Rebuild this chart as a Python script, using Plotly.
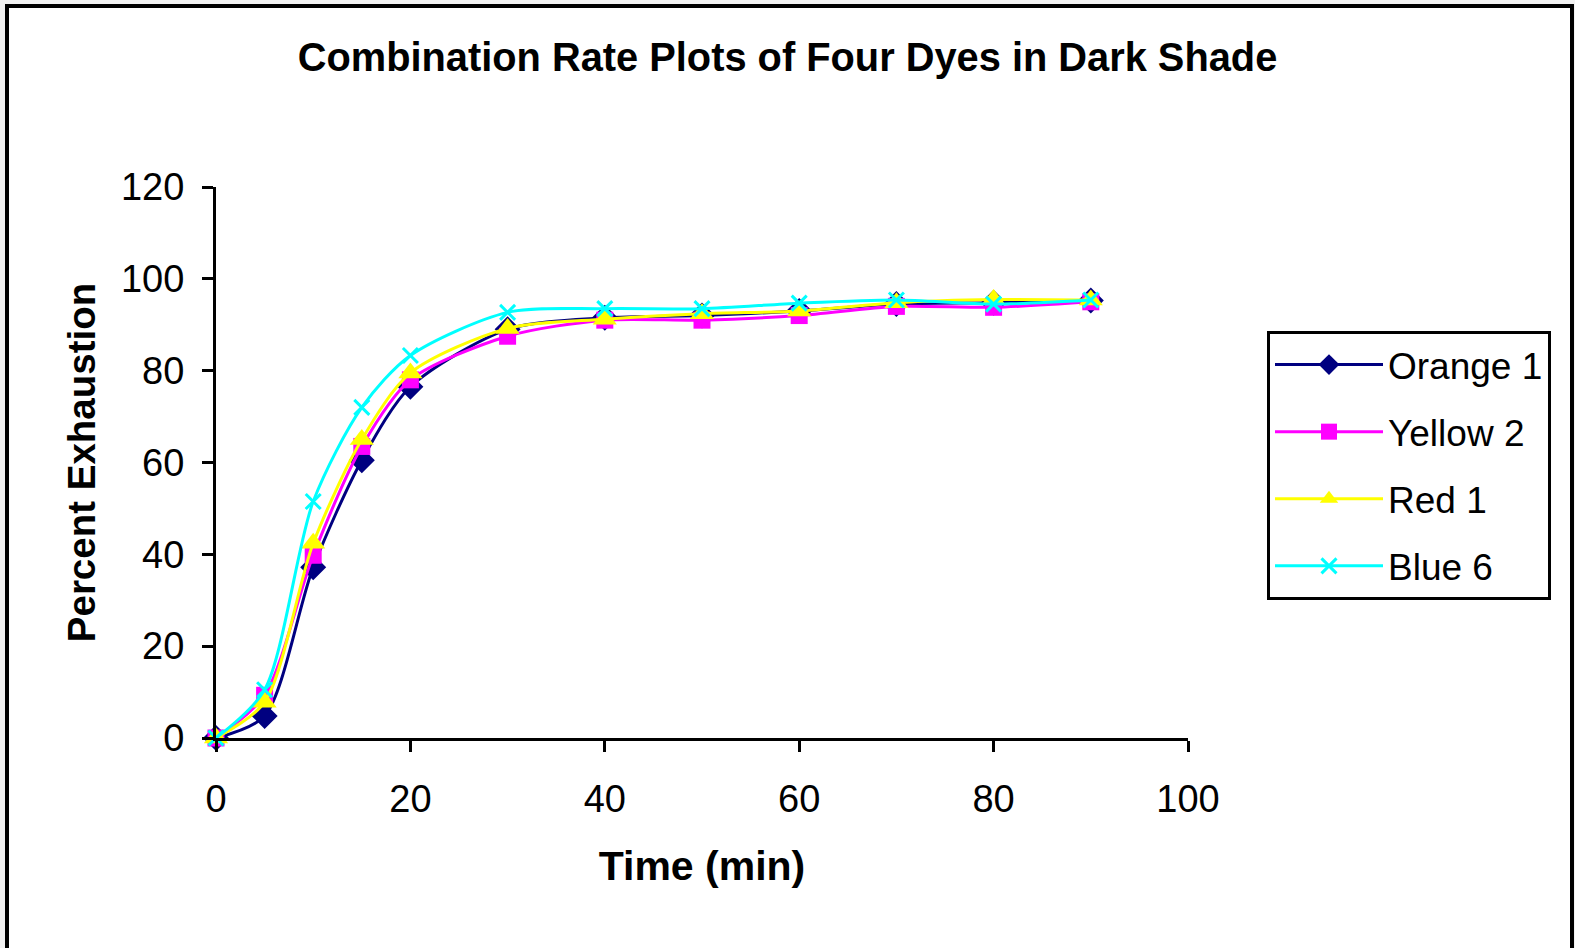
import plotly.graph_objects as go

# ── data ──────────────────────────────────────────────────────────────────────
time_min = [0, 5, 10, 15, 20, 30, 40, 50, 60, 70, 80, 90]

orange_1 = [0, 4.8, 37.2, 60.5, 76.5, 89.0, 91.5, 92.0, 93.0, 94.5, 94.8, 95.3]
yellow_2 = [0, 9.3, 39.8, 63.5, 78.0, 87.5, 91.0, 91.0, 92.0, 94.0, 93.8, 95.0]
red_1    = [0, 7.8, 42.4, 65.0, 79.5, 89.2, 91.2, 92.4, 93.0, 94.8, 95.5, 95.4]
blue_6   = [0, 10.5, 51.5, 72.0, 83.3, 92.7, 93.5, 93.5, 94.7, 95.4, 94.5, 95.4]

series_names = ["Orange 1", "Yellow 2", "Red 1", "Blue 6"]
series_vals = [orange_1, yellow_2, red_1, blue_6]

# ── styling (Excel-like) ─────────────────────────────────────────────────────
colours = ["#000080", "#FF00FF", "#FFFF00", "#00FFFF"]
symbols = ["diamond", "square", "triangle-up", "x-thin"]
sizes = [20, 17, 21, 15]

FONT = "Liberation Sans, Arial, sans-serif"

W, H = 1575, 948
L, R, T, B = 216, 387, 187, 210   # plot-area margins in px

fig = go.Figure()
for i, (name, vals) in enumerate(zip(series_names, series_vals)):
    marker = dict(symbol=symbols[i], size=sizes[i], color=colours[i])
    if symbols[i] == "x-thin":
        marker["line"] = dict(color=colours[i], width=3)
    fig.add_trace(go.Scatter(
        x=time_min,
        y=vals,
        name=name,
        legendgroup=name,
        mode="lines+markers",
        line=dict(color=colours[i], width=3, shape="spline", smoothing=0.8),
        marker=marker,
        cliponaxis=False,
    ))

# outer chart border (paper coords relative to the plot area)
pw, ph = W - L - R, H - T - B
fig.add_shape(
    type="rect", xref="paper", yref="paper", layer="below",
    x0=(7 - L) / pw, x1=(1572 - L) / pw,
    y0=(H - B - 970) / ph, y1=(H - B - 6) / ph,
    line=dict(color="black", width=4), fillcolor="white",
)

fig.update_layout(
    width=W, height=H,
    margin=dict(l=L, r=R, t=T, b=B, autoexpand=False),
    paper_bgcolor="#f2f2f2",
    plot_bgcolor="rgba(0,0,0,0)",
    font=dict(family=FONT, color="black", size=38),
    title=dict(
        text="<b>Combination Rate Plots of Four Dyes in Dark Shade</b>",
        x=0.5, xref="container", xanchor="center",
        y=1 - 57 / H, yref="container", yanchor="middle",
        font=dict(size=39.8),
    ),
    xaxis=dict(
        title=dict(text="<b>Time (min)</b>", font=dict(size=41), standoff=33),
        range=[0, 100], dtick=20, tick0=0,
        showgrid=False, zeroline=False,
        showline=True, linecolor="black", linewidth=3,
        ticks="outside", ticklen=11, tickwidth=3, tickcolor="black",
        ticklabelstandoff=14,
        tickfont=dict(size=38),
    ),
    yaxis=dict(
        title=dict(text="<b>Percent Exhaustion</b>", font=dict(size=38.5), standoff=14),
        range=[0, 120], dtick=20, tick0=0,
        showgrid=False, zeroline=False,
        showline=True, linecolor="black", linewidth=3,
        ticks="outside", ticklen=11, tickwidth=3, tickcolor="black",
        ticklabelstandoff=10,
        tickfont=dict(size=38),
    ),
    legend=dict(
        x=(1267 - L) / pw, xanchor="left",
        y=(H - B - 331) / ph, yanchor="top",
        bordercolor="black", borderwidth=3, bgcolor="white",
        font=dict(size=37),
        traceorder="grouped", tracegroupgap=16,
        itemwidth=108,
    ),
)

fig.write_html(
    "out.html",
    config={"displayModeBar": False},
    post_script="document.body.style.margin='0';",
)
